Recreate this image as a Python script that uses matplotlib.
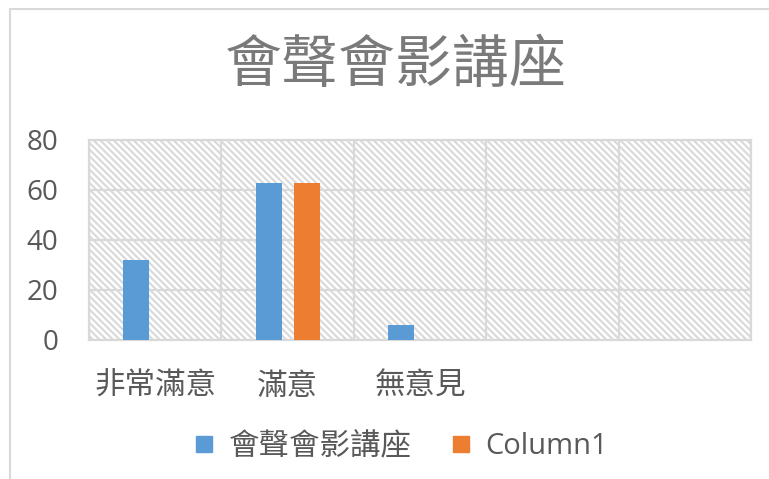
import numpy as np
import matplotlib.pyplot as plt
from matplotlib.patches import Rectangle
from matplotlib.lines import Line2D

# chart data
categories = ['非常滿意', '滿意', '無意見', '', '']
series_names = ['會聲會影講座', 'Column1']
seminar = [32, 63, 6, np.nan, np.nan]
column1 = [np.nan, 63, np.nan, np.nan, np.nan]
y_ticks = [0, 20, 40, 60, 80]

plt.rcParams['font.family'] = ['Noto Sans CJK TC', 'DejaVu Sans']
plt.rcParams['hatch.color'] = '#dcdcdc'
plt.rcParams['hatch.linewidth'] = 1.5

text_color = '#595959'
grid_color = '#d9d9d9'
blue = '#5b9bd5'
orange = '#ed7d31'

fig = plt.figure(figsize=(7.69, 4.79), dpi=100)
ax = fig.add_axes([89 / 769, 1 - 340 / 479, (751 - 89) / 769, 200 / 479])

# outer chart frame
fig.patches.append(Rectangle((10 / 769, -0.1), 1.2, 1 - 9 / 479 + 0.1, transform=fig.transFigure,
                             fill=False, edgecolor=grid_color, linewidth=1.5))

x = np.arange(len(categories))
# hatched plot area
ax.add_patch(Rectangle((-0.5, 0), len(categories), 80, facecolor='white', hatch='\\\\\\\\\\',
                       edgecolor=grid_color, linewidth=0, zorder=0))

w = 0.196
ax.bar(x - 0.144, seminar, w, color=blue, label=series_names[0], zorder=3)
ax.bar(x + 0.144, column1, w, color=orange, label=series_names[1], zorder=3)

ax.set_xlim(-0.5, len(categories) - 0.5)
ax.set_ylim(0, 80)
ax.set_yticks(y_ticks)
ax.set_xticks(x)
ax.set_xticklabels(categories, fontsize=22, color=text_color)
ax.set_xticks(np.arange(len(categories) + 1) - 0.5, minor=True)
for lab in ax.get_yticklabels():
    lab.set_fontfamily(['Open Sans', 'DejaVu Sans'])
    lab.set_fontsize(20)
    lab.set_color(text_color)
ax.tick_params(axis='both', length=0, which='both')
ax.tick_params(axis='x', pad=22)
ax.tick_params(axis='y', pad=22)
ax.grid(True, axis='y', color=grid_color, linewidth=1.6, zorder=1)
ax.grid(True, axis='x', which='minor', color=grid_color, linewidth=1.6, zorder=1)
for s in ax.spines.values():
    s.set_color(grid_color)
    s.set_linewidth(1.6)

fig.text(396 / 769, 1 - 66 / 479, '會聲會影講座', ha='center', va='center', fontsize=41, color='#7a7a7a')

handles = [Line2D([], [], marker='s', linestyle='', color=c, markersize=11) for c in (blue, orange)]
leg = fig.legend(handles, series_names, loc='center', bbox_to_anchor=(0.522, 1 - 446 / 479), ncol=2,
                 frameon=False, fontsize=22, handlelength=0.6, handletextpad=0.5,
                 columnspacing=1.3, labelcolor=text_color)
leg.get_texts()[1].set_fontfamily(['Open Sans', 'DejaVu Sans'])
leg.get_texts()[1].set_fontsize(21)

fig.savefig('out.png', dpi=100)
